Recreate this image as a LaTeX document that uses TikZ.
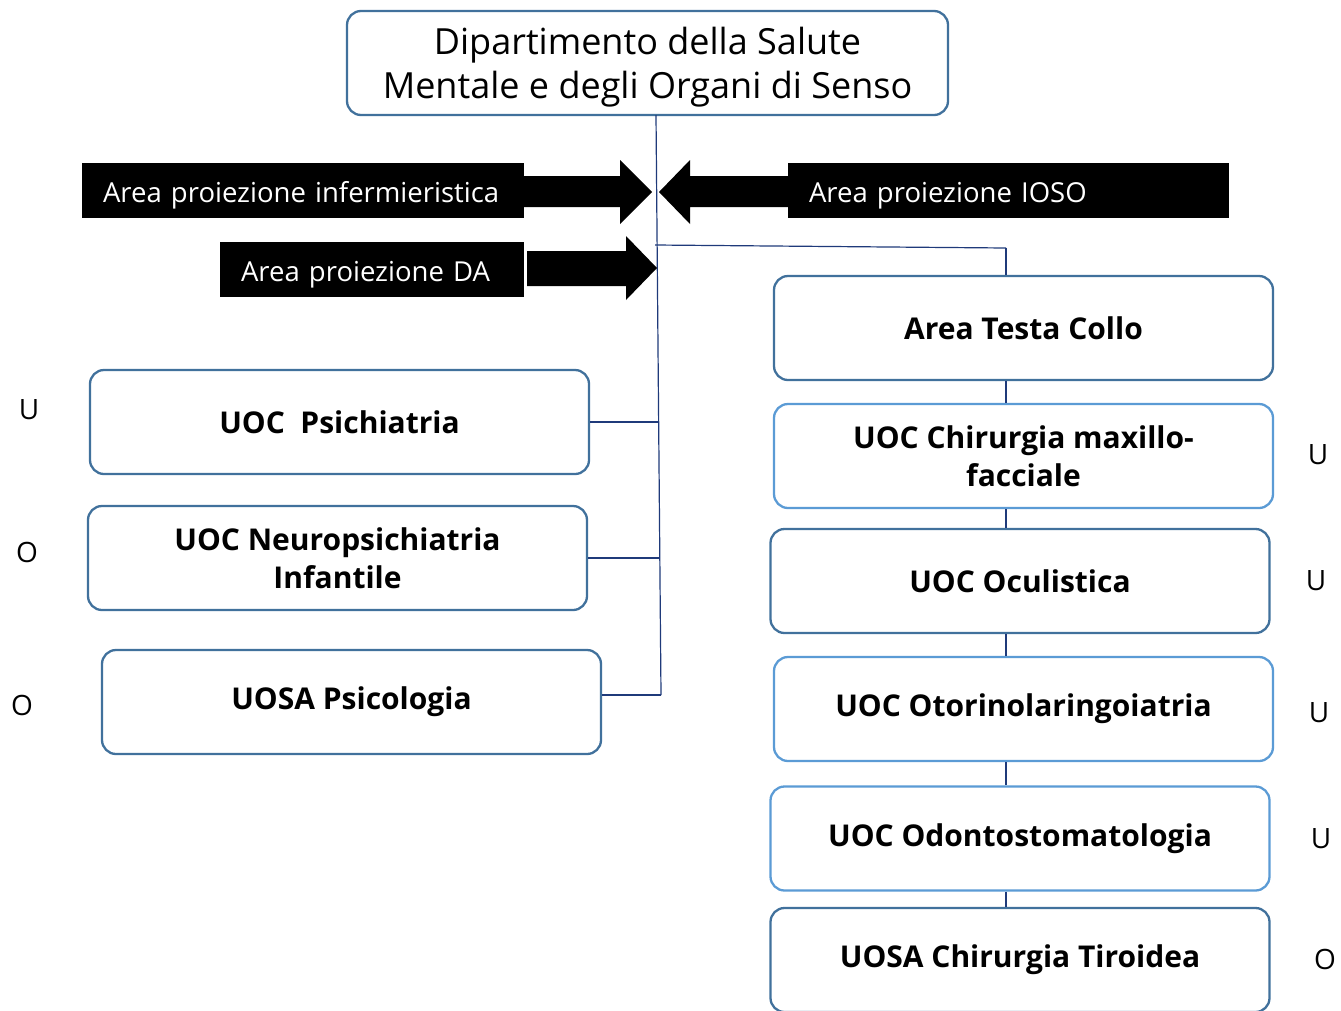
\documentclass[tikz,border=0pt]{standalone}
\usepackage{fontspec}
\setmainfont{Open Sans}
\definecolor{dkb}{HTML}{41719C}
\definecolor{ltb}{HTML}{5B9BD5}
\definecolor{nav}{HTML}{1F3A7A}
\newcommand{\lowertxt}[1]{\raisebox{-5pt}[\height][\depth]{\mbox{#1}}}
\tikzset{
  box/.style={draw=dkb, line width=2.3pt, rounded corners=14pt, fill=white,
    minimum width=499pt, minimum height=104pt, align=center, inner sep=0pt,
    font=\fontsize{30}{38}\selectfont\bfseries},
  lbox/.style={box, draw=ltb},
  tag/.style={fill=black, text=white, minimum height=55pt, inner xsep=21pt, inner ysep=0pt,
    align=left, font=\fontsize{27.5}{32}\selectfont},
  side/.style={font=\fontsize{28}{32}\selectfont, inner sep=0pt},
  conn/.style={draw=nav, line width=1.2pt},
}
\begin{document}
\begin{tikzpicture}[x=1pt,y=-1pt]
\useasboundingbox (0,0) rectangle (1341,1010);
\clip (0,0) rectangle (1341,1010);
% top
\node[box, minimum width=601pt] (top) at (647.5,63) {};
\node[font=\fontsize{36}{44}\selectfont, align=center, inner sep=0pt] (toptext) at (647.5,67) {Dipartimento della Salute\\Mentale e degli Organi di Senso};
% coordinates
\coordinate (tt) at (656,115);
\coordinate (tb) at (661,695);
\coordinate (br) at (655,245);
\coordinate (bm) at (1006,248);
% connectors (behind)
\draw[conn] (tt) -- (tb);
\draw[conn] (br) -- (bm);
% left boxes
\node[box] (psich) at (339.5,422) {UOC\ \ Psichiatria};
\node[box] (neuro) at (337.5,558) {UOC Neuropsichiatria\\Infantile};
\node[box] (psico) at (351.5,702) {UOSA Psicologia};
% right boxes
\node[box] (testa) at (1023.5,328) {Area Testa Collo};
\node[lbox] (maxi) at (1023.5,456) {UOC Chirurgia maxillo-\\facciale};
\node[box] (ocul) at (1020,581) {UOC Oculistica};
\node[lbox] (otor) at (1023.5,709) {UOC Otorinolaringoiatria};
\node[lbox] (odon) at (1020,838.5) {UOC Odontostomatologia};
\node[box] (tiro) at (1020,960) {UOSA Chirurgia Tiroidea};
% connectors
\draw[conn] (psich.east) -- (psich.east -| 658,0);
\draw[conn] (neuro.east) -- (neuro.east -| 659,0);
\draw[conn] (tb) -- (tb -| psico.east);
\draw[conn] (bm) -- (testa.north -| bm);
\draw[conn] (testa.south -| bm) -- (maxi.north -| bm);
\draw[conn] (maxi.south -| bm) -- (ocul.north -| bm);
\draw[conn] (ocul.south -| bm) -- (otor.north -| bm);
\draw[conn] (otor.south -| bm) -- (odon.north -| bm);
\draw[conn] (odon.south -| bm) -- (tiro.north -| bm);
% black tags and arrows
\node[tag, text width=400pt] (inf) at (303,190.5) {\lowertxt{Area proiezione infermieristica}};
\fill[black] (inf.east |- 0,176) -- (620,176) -- (620,160) -- (652,192) -- (620,224) -- (620,207) -- (inf.east |- 0,207) -- cycle;
\node[tag, text width=399pt] (ioso) at (1008.5,190.5) {\lowertxt{Area proiezione IOSO}};
\fill[black] (ioso.west |- 0,176) -- (690,176) -- (690,160) -- (659,192) -- (690,224) -- (690,207) -- (ioso.west |- 0,207) -- cycle;
\node[tag, text width=262pt] (da) at (372,269.5) {\lowertxt{Area proiezione DA}};
\fill[black] (527,251) -- (626,251) -- (626,236) -- (657,268) -- (626,300) -- (626,286) -- (527,286) -- cycle;
% side letters
\node[side] (s1) at (29,410) {U};
\node[side] (s2) at (27,552) {O};
\node[side] (s3) at (22,705) {O};
\node[side] (s4) at (1318,455) {U};
\node[side] (s5) at (1316,581) {U};
\node[side] (s6) at (1319,713) {U};
\node[side] (s7) at (1321,839) {U};
\node[side] (s8) at (1325,959) {O};
\end{tikzpicture}
\end{document}
